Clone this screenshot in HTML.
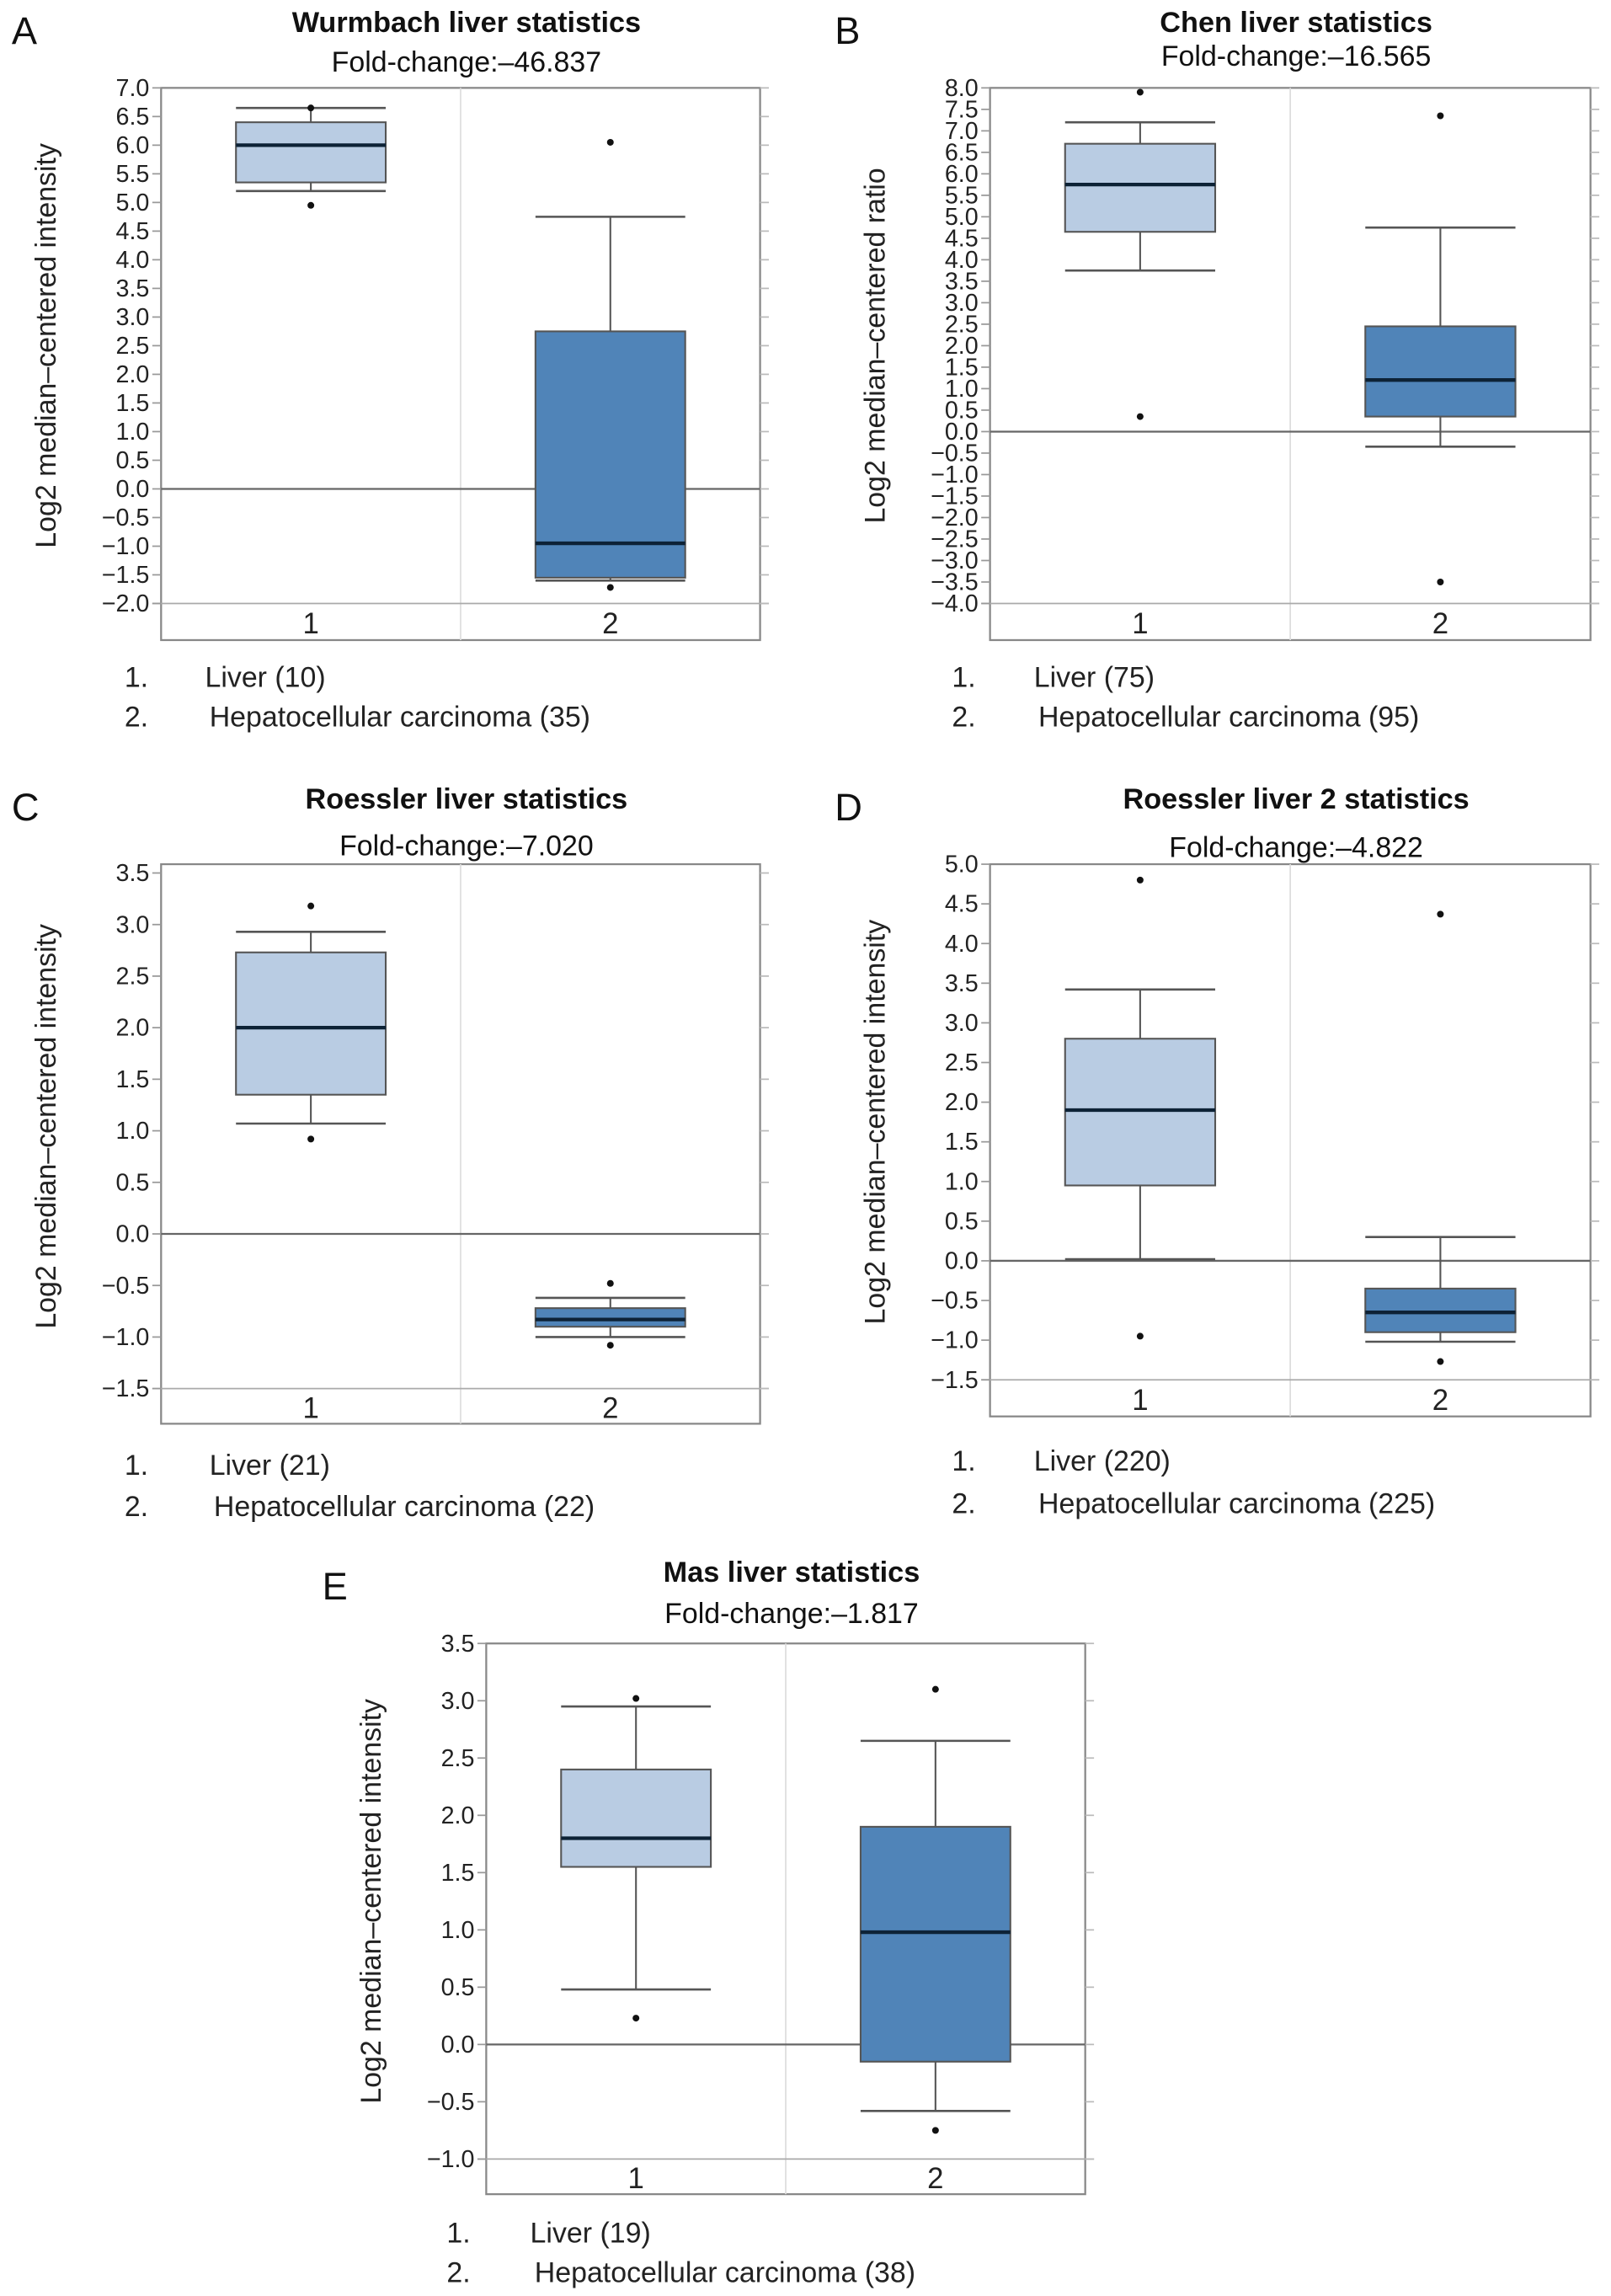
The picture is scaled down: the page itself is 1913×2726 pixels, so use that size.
<!DOCTYPE html>
<html><head><meta charset="utf-8"><style>
html,body{margin:0;padding:0;background:#fff;}
svg{display:block;font-family:"Liberation Sans",Arial,sans-serif;}
</style></head>
<body>
<svg id="fig" width="1913" height="2726" viewBox="0 0 1100 1567.5" preserveAspectRatio="none" xmlns="http://www.w3.org/2000/svg"></svg>
<script>
// Panel data arrays
const panelTitles = ["Wurmbach liver statistics","Chen liver statistics","Roessler liver statistics","Roessler liver 2 statistics","Mas liver statistics"];
const panelFold = ["Fold-change:\u201346.837","Fold-change:\u201316.565","Fold-change:\u20137.020","Fold-change:\u20134.822","Fold-change:\u20131.817"];
const panelLetters = ["A","B","C","D","E"];
const yLabels = ["Log2 median\u2013centered intensity","Log2 median\u2013centered ratio","Log2 median\u2013centered intensity","Log2 median\u2013centered intensity","Log2 median\u2013centered intensity"];
const yMin = [-2.0,-4.0,-1.5,-1.5,-1.0];
const yMax = [7.0,8.0,3.5,5.0,3.5];
const yStep = [0.5,0.5,0.5,0.5,0.5];
const categories = ["1","2"];
const legendNames = [["Liver (10)","Hepatocellular carcinoma (35)"],["Liver (75)","Hepatocellular carcinoma (95)"],["Liver (21)","Hepatocellular carcinoma (22)"],["Liver (220)","Hepatocellular carcinoma (225)"],["Liver (19)","Hepatocellular carcinoma (38)"]];
// per panel: [group1, group2] each [whiskerLow, q1, median, q3, whiskerHigh]
const boxStats = [
 [[5.2,5.35,6.0,6.4,6.65],[-1.6,-1.55,-0.95,2.75,4.75]],
 [[3.75,4.65,5.75,6.7,7.2],[-0.35,0.35,1.2,2.45,4.75]],
 [[1.07,1.35,2.0,2.73,2.93],[-1.0,-0.9,-0.83,-0.72,-0.62]],
 [[0.02,0.95,1.9,2.8,3.42],[-1.02,-0.9,-0.65,-0.35,0.3]],
 [[0.48,1.55,1.8,2.4,2.95],[-0.58,-0.15,0.98,1.9,2.65]]
];
const outliers = [
 [[6.65,4.95],[6.05,-1.72]],
 [[7.9,0.35],[7.35,-3.5]],
 [[3.18,0.92],[-0.48,-1.08]],
 [[4.8,-0.95],[4.37,-1.27]],
 [[3.02,0.23],[3.1,-0.75]]
];

const layout = [
 {x0:110,x1:519,yTop:60,yBot:412,bot:437,tY:15,fY:42,letter:[8,20],ly:[462,489],lx:[85,140]},
 {x0:676,x1:1086,yTop:60,yBot:412,bot:437,tY:15,fY:38,letter:[570,20],ly:[462,489],lx:[650,706]},
 {x0:110,x1:519,yTop:596,yBot:948,bot:972,tY:545,fY:577,letter:[8,550],ly:[1000,1028],lx:[85,143],top:590},
 {x0:676,x1:1086,yTop:590,yBot:942,bot:967,tY:545,fY:578,letter:[570,550],ly:[997,1026],lx:[650,706]},
 {x0:332,x1:741,yTop:1122,yBot:1474,bot:1498,tY:1073,fY:1101,letter:[220,1082],ly:[1524,1551],lx:[305,362]}
];
const NS="http://www.w3.org/2000/svg";
const svg=document.getElementById('fig');
function mk(tag,attrs,parent){const e=document.createElementNS(NS,tag);for(const k in attrs)e.setAttribute(k,attrs[k]);(parent||svg).appendChild(e);return e;}
function txt(s,attrs,parent){const e=mk('text',attrs,parent);e.textContent=s;return e;}

layout.forEach((L,p)=>{
  const g=mk('g',{});
  
  
  const top=L.top||L.yTop;
  const ys=v=>L.yBot-(v-yMin[p])/(yMax[p]-yMin[p])*(L.yBot-L.yTop);
  const cx=i=>L.x0+(L.x1-L.x0)*(i+0.5)/2;
  const mid=(L.x0+L.x1)/2;
  let t=txt(panelLetters[p],{x:L.letter[0],y:L.letter[1]+10,'font-size':26,fill:'#111'},g);
  
  t=txt(panelTitles[p],{x:mid+4,y:L.tY+7,'font-size':19.7,'font-weight':'bold','text-anchor':'middle',fill:'#111'},g);
  
  t=txt(panelFold[p],{x:mid+4,y:L.fY+7,'font-size':19.5,'text-anchor':'middle',fill:'#111'},g);
  
  let r=mk('rect',{x:L.x0,y:top,width:L.x1-L.x0,height:L.bot-top,fill:'none',stroke:'#888','stroke-width':1.3},g);
  
  mk('line',{x1:mid,y1:top,x2:mid,y2:L.bot,stroke:'#ddd','stroke-width':1},g);
  mk('line',{x1:L.x0-6,y1:L.yBot,x2:L.x1+6,y2:L.yBot,stroke:'#aaa','stroke-width':1},g);
  const n=Math.round((yMax[p]-yMin[p])/yStep[p]);
  for(let k=0;k<=n;k++){
    const v=yMin[p]+k*yStep[p];const y=ys(v);
    mk('line',{x1:L.x0-6,y1:y,x2:L.x0,y2:y,stroke:'#999','stroke-width':1},g);
    mk('line',{x1:L.x1,y1:y,x2:L.x1+6,y2:y,stroke:'#bbb','stroke-width':1},g);
    const lab=(v<0?'\u2212':'')+Math.abs(v).toFixed(1);
    t=txt(lab,{x:L.x0-8,y:y+5.5,'font-size':16.5,'text-anchor':'end',fill:'#222'},g);
    
  }
  mk('line',{x1:L.x0,y1:ys(0),x2:L.x1,y2:ys(0),stroke:'#666','stroke-width':1.3},g);
  const yc=(top+L.yBot)/2;const lxp=L.x0-72;
  t=txt(yLabels[p],{x:lxp,y:yc,'font-size':19.5,'text-anchor':'middle',fill:'#222',transform:`rotate(-90 ${lxp} ${yc})`},g);
  
  categories.forEach((c,i)=>{
    t=txt(c,{x:cx(i),y:(L.yBot+L.bot)/2+8,'font-size':20,'text-anchor':'middle',fill:'#222'},g);
    
    const s=boxStats[p][i];const hw=(L.x1-L.x0)*0.125;const x=cx(i);
    const bg=mk('g',{},g);
    
    
    mk('line',{x1:x,y1:ys(s[0]),x2:x,y2:ys(s[1]),stroke:'#555','stroke-width':1.2},bg);
    mk('line',{x1:x,y1:ys(s[3]),x2:x,y2:ys(s[4]),stroke:'#555','stroke-width':1.2},bg);
    mk('line',{x1:x-hw,y1:ys(s[0]),x2:x+hw,y2:ys(s[0]),stroke:'#555','stroke-width':1.5},bg);
    mk('line',{x1:x-hw,y1:ys(s[4]),x2:x+hw,y2:ys(s[4]),stroke:'#555','stroke-width':1.5},bg);
    mk('rect',{x:x-hw,y:ys(s[3]),width:2*hw,height:ys(s[1])-ys(s[3]),fill:i==0?'#b9cce3':'#5084b8',stroke:'#555','stroke-width':1.2},bg);
    mk('line',{x1:x-hw,y1:ys(s[2]),x2:x+hw,y2:ys(s[2]),stroke:'#0d2236','stroke-width':2.5},bg);
    outliers[p][i].forEach(o=>{
      const d=mk('circle',{cx:x,cy:ys(o),r:2.3,fill:'#111'},bg);
      
      
    });
    t=txt((i+1)+'.',{x:L.lx[0],y:L.ly[i]+7,'font-size':19.5,fill:'#222'},g);
    
    t=txt(legendNames[p][i],{x:L.lx[1]+(i==1?3:0),y:L.ly[i]+7,'font-size':19.5,fill:'#222'},g);
    
  });
});
</script>
</body></html>
